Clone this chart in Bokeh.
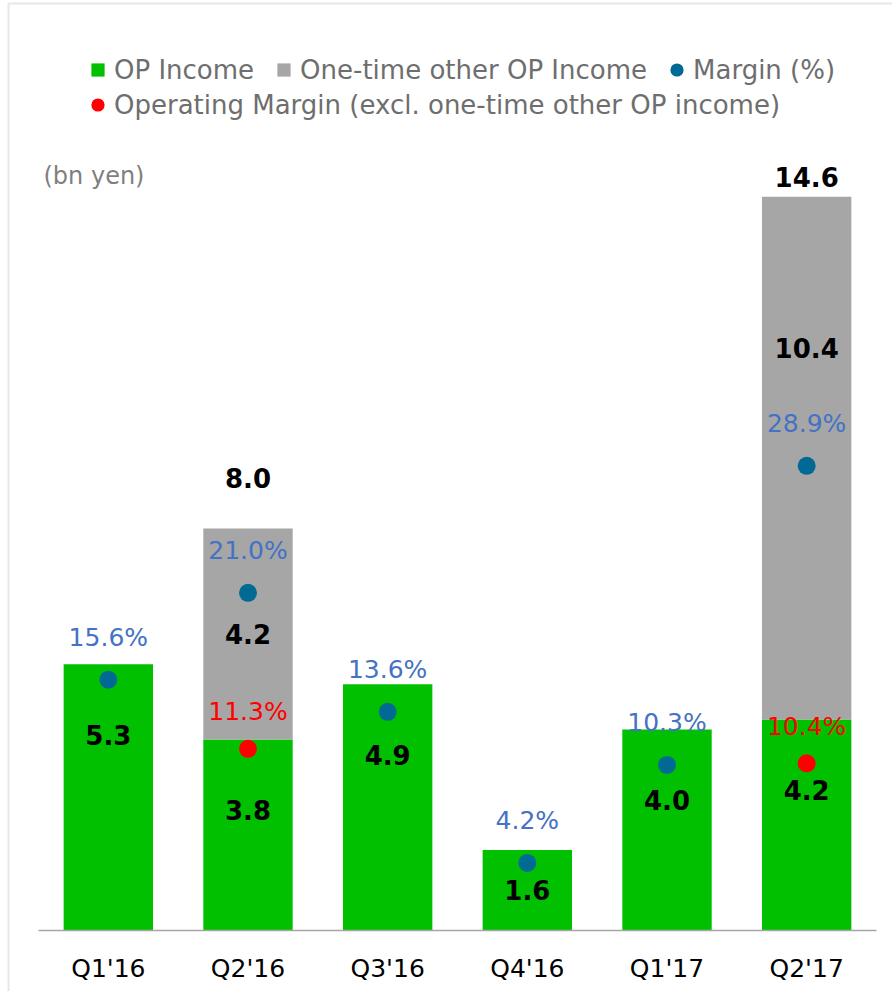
from bokeh.plotting import figure
from bokeh.models import (ColumnDataSource, Range1d, Legend, LegendItem,
                          Label, BoxAnnotation)
from bokeh.core.properties import value
from bokeh.embed import file_html
from bokeh.resources import INLINE

# ---- data -------------------------------------------------------------
quarters = ["Q1'16", "Q2'16", "Q3'16", "Q4'16", "Q1'17", "Q2'17"]
op_income = [5.3, 3.8, 4.9, 1.6, 4.0, 4.2]
one_time = [0.0, 4.2, 0.0, 0.0, 0.0, 10.4]
margin_pct = [15.6, 21.0, 13.6, 4.2, 10.3, 28.9]
excl_quarters = ["Q2'16", "Q2'17"]
excl_margin_pct = [11.3, 10.4]
unit_label = "(bn yen)"
legend_labels = ["OP Income", "One-time other OP Income", "Margin (%)",
                 "Operating Margin (excl. one-time other OP income)"]

# ---- layout / style ---------------------------------------------------
W, H = 892, 991
PLOT_LEFT, PLOT_RIGHT = 38, 876      # pixel extent of the category band
BASE_Y = 930                          # pixel row of the value-axis zero
BN_MAX, PCT_MAX, TOP_Y = 16.0, 50.0, 126
PX_BN = (BASE_Y - TOP_Y) / BN_MAX
PX_PCT = (BASE_Y - TOP_Y) / PCT_MAX

FONT = "DejaVu Sans"
GREEN = "#00C000"
GRAY = "#A6A6A6"
DOT_BLUE = "#006A94"
LABEL_BLUE = "#4472C4"
RED = "#FF0000"
TEXT_GRAY = "#6E6E6E"

n = len(quarters)
xs = list(range(n))
pitch = (PLOT_RIGHT - PLOT_LEFT) / n
totals = [a + b for a, b in zip(op_income, one_time)]

src = ColumnDataSource(dict(
    x=xs, q=quarters, op=op_income, total=totals, margin=margin_pct,
    zero=[0] * n,
    margin_txt=[f"{m:.1f}%" for m in margin_pct],
    op_txt=[f"{v:.1f}" for v in op_income],
    op_y=[max(v / 2, v - 1.4) for v in op_income],
))

stk_x = [x for x, o in zip(xs, one_time) if o > 0]
stk_op = [v for v, o in zip(op_income, one_time) if o > 0]
stk_one = [o for o in one_time if o > 0]
stk_tot = [a + b for a, b in zip(stk_op, stk_one)]
src_stk = ColumnDataSource(dict(
    x=stk_x,
    one_txt=[f"{v:.1f}" for v in stk_one],
    one_y=[max(a + b / 2, a + b - 3.0) for a, b in zip(stk_op, stk_one)],
    tot_txt=[f"{v:.1f}" for v in stk_tot],
    tot_y=[min(t + 1.0, 15.0) for t in stk_tot],
))

src_ex = ColumnDataSource(dict(
    x=[quarters.index(q) for q in excl_quarters], m=excl_margin_pct,
    txt=[f"{m:.1f}%" for m in excl_margin_pct],
))

x_range = Range1d(-0.5 - PLOT_LEFT / pitch, n - 0.5 + (W - PLOT_RIGHT) / pitch)
y_range = Range1d(-(H - BASE_Y) / PX_BN, BASE_Y / PX_BN)
p = figure(x_range=x_range, y_range=y_range, width=W, height=H,
           output_backend="svg", toolbar_location=None,
           x_axis_location=None, y_axis_location=None,
           min_border=0)
p.extra_y_ranges = {"pct": Range1d(-(H - BASE_Y) / PX_PCT, BASE_Y / PX_PCT)}
p.outline_line_color = None
p.xgrid.visible = False
p.ygrid.visible = False
p.background_fill_color = "white"
p.border_fill_color = "white"

# bars
p.vbar(x="x", top="op", bottom=0, width=0.64, source=src,
       fill_color=GREEN, line_color=None)
p.vbar(x="x", bottom="op", top="total", width=0.64, source=src,
       fill_color=GRAY, line_color=None)

# category axis: baseline + labels
p.segment(x0=-0.5, x1=n - 0.5, y0=0, y1=0, line_color="#A6A6A6", line_width=1.5)
p.text(x="x", y="zero", text="q", source=src, y_offset=38,
       text_align="center", text_baseline="middle", text_font=value(FONT),
       text_font_size="25px", text_color="black")

# margin dots
dot_r = p.scatter(x="x", y="margin", source=src, y_range_name="pct", size=18,
                  fill_color=DOT_BLUE, line_color=None)
red_r = p.scatter(x="x", y="m", source=src_ex, y_range_name="pct", size=18,
                  fill_color=RED, line_color=None)

# labels
p.text(x="x", y="margin", text="margin_txt", source=src, y_range_name="pct",
       y_offset=-42, text_align="center", text_baseline="middle",
       text_font=value(FONT), text_font_size="25px", text_color=LABEL_BLUE)
p.text(x="x", y="m", text="txt", source=src_ex, y_range_name="pct",
       y_offset=-37, text_align="center", text_baseline="middle",
       text_font=value(FONT), text_font_size="25px", text_color=RED)
p.text(x="x", y="op_y", text="op_txt", source=src,
       text_align="center", text_baseline="middle", text_font=value(FONT),
       text_font_size="26px", text_font_style="bold", text_color="black")
p.text(x="x", y="one_y", text="one_txt", source=src_stk,
       text_align="center", text_baseline="middle", text_font=value(FONT),
       text_font_size="26px", text_font_style="bold", text_color="black")
p.text(x="x", y="tot_y", text="tot_txt", source=src_stk,
       text_align="center", text_baseline="middle", text_font=value(FONT),
       text_font_size="26px", text_font_style="bold", text_color="black")

# legend helper glyphs (one invisible NaN point each, used only for the key)
nan = float("nan")
sq_green = p.scatter(x=[0], y=[nan], marker="square", size=15,
                     fill_color=GREEN, line_color=None)
sq_gray = p.scatter(x=[0], y=[nan], marker="square", size=15,
                    fill_color=GRAY, line_color=None)

common = dict(orientation="horizontal", glyph_width=33, glyph_height=37,
              label_standoff=0, spacing=13, padding=0, margin=0,
              border_line_color=None, background_fill_alpha=0,
              label_text_font=FONT, label_text_font_size="26px",
              label_text_color=TEXT_GRAY)
leg1 = Legend(items=[LegendItem(label=legend_labels[0], renderers=[sq_green]),
                     LegendItem(label=legend_labels[1], renderers=[sq_gray]),
                     LegendItem(label=legend_labels[2], renderers=[dot_r])],
              location=(81, H - 88), **common)
leg2 = Legend(items=[LegendItem(label=legend_labels[3], renderers=[red_r])],
              location=(81, H - 123), **common)
p.add_layout(leg1)
p.add_layout(leg2)

p.add_layout(Label(x=43, y=H - 175, x_units="screen", y_units="screen",
                   text=unit_label, text_font=FONT, text_font_size="24px",
                   text_color="#7F7F7F", text_baseline="middle"))

# chart-area border (top and left edges visible)
p.add_layout(BoxAnnotation(left=8, right=W + 50, top=H - 3, bottom=-50,
                           left_units="screen", right_units="screen",
                           top_units="screen", bottom_units="screen",
                           fill_alpha=0, fill_color=None,
                           line_color="#B0B0B0", line_width=2))

open("out.html", "w").write(file_html(p, INLINE))
